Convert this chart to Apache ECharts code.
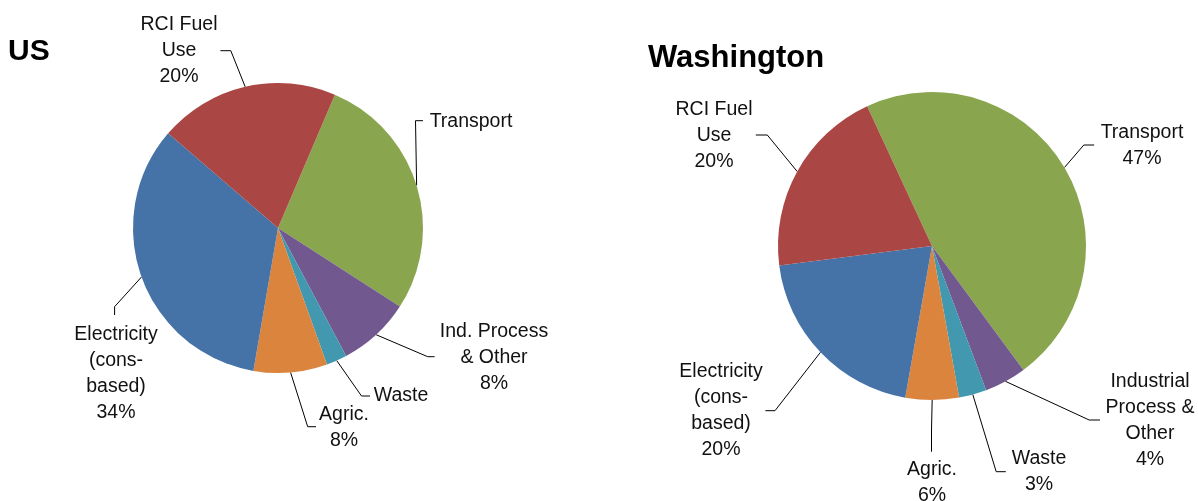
<!DOCTYPE html>
<html><head><meta charset="utf-8">
<script src="https://cdn.jsdelivr.net/npm/echarts@6/dist/echarts.min.js"></script>
<style>html,body{margin:0;padding:0;background:#fff}#c{width:1198px;height:501px}</style>
</head><body><div id="c"></div>
<script>
// ---- data ----
const categories = ['Transport', 'Ind. Process & Other', 'Waste', 'Agric.', 'Electricity (cons-based)', 'RCI Fuel Use'];
const usValues = [27.7, 8.1, 2.3, 8.2, 33.6, 20.1];
const waValues = [46.8, 4.4, 2.9, 5.6, 20.2, 20.1];
const usLabelNames = ['Transport', 'Ind. Process\n& Other', 'Waste', 'Agric.', 'Electricity\n(cons-\nbased)', 'RCI Fuel\nUse'];
const waLabelNames = ['Transport', 'Industrial\nProcess &\nOther', 'Waste', 'Agric.', 'Electricity\n(cons-\nbased)', 'RCI Fuel\nUse'];
const usShowPct = [false, true, false, true, true, true];
const waShowPct = [true, true, true, true, true, true];
const titles = ['US', 'Washington'];

// ---- style / layout ----
const colors = ['#89A54E', '#71588F', '#4198AF', '#DB843D', '#4572A7', '#AA4643'];
const FONT = 'Liberation Sans, Arial, sans-serif';
// label text-block centres and leader-line bend/end points (annotation layout)
const labelLayouts = [
  [
    {x: 471, y: 122, bend: [415.5, 120.7], end: [423, 120.7]},
    {x: 494, y: 357.5, bend: [427.7, 356.7], end: [434.6, 356.7]},
    {x: 401, y: 396, bend: [361.5, 396], end: [370, 396]},
    {x: 344, y: 427.5, bend: [307.7, 426.7], end: [316, 426.7]},
    {x: 116, y: 373.5, bend: [114.6, 306.7], end: [114.6, 315]},
    {x: 179, y: 50.5, bend: [230.8, 50.7], end: [220.4, 50.7]}
  ],
  [
    {x: 1142, y: 145.5, bend: [1083.8, 145], end: [1094.2, 145]},
    {x: 1150, y: 420.5, bend: [1089.2, 420], end: [1100, 420]},
    {x: 1039, y: 471.5, bend: [996.2, 471.7], end: [1005.8, 471.7]},
    {x: 932, y: 482.5, bend: [931.5, 430], end: [931.5, 451.7]},
    {x: 721, y: 410.5, bend: [775, 410.7], end: [765.4, 410.7]},
    {x: 714, y: 135.5, bend: [767.3, 135], end: [755.8, 135]}
  ]
];

function buildData(values, names, showPct) {
  return values.map((v, i) => ({
    name: categories[i],
    value: v,
    labelText: names[i] + (showPct[i] ? '\n' + Math.round(v) + '%' : '')
  }));
}
const usData = buildData(usValues, usLabelNames, usShowPct);
const waData = buildData(waValues, waLabelNames, waShowPct);

function pieSeries(idx, data, center, radius, startAngle) {
  return {
    type: 'pie',
    center: center,
    radius: radius,
    startAngle: startAngle,
    clockwise: true,
    avoidLabelOverlap: false,
    animation: false,
    silent: true,
    data: data,
    itemStyle: {borderWidth: 0},
    label: {
      show: true,
      position: 'outside',
      formatter: p => p.data.labelText,
      color: '#111',
      fontFamily: FONT,
      fontSize: 19.5,
      lineHeight: 26,
      align: 'center'
    },
    labelLine: {show: true, length: 20, length2: 10, lineStyle: {color: '#000', width: 1}},
    labelLayout: function (params) {
      const L = labelLayouts[idx][params.dataIndex];
      const pts = params.labelLinePoints;
      const p0 = pts && pts[0] ? pts[0] : L.bend;
      return {
        x: L.x, y: L.y, align: 'center', verticalAlign: 'middle',
        hideOverlap: false, moveOverlap: null,
        labelLinePoints: [[p0[0], p0[1]], L.bend, L.end]
      };
    }
  };
}

const chart = echarts.init(document.getElementById('c'), null, {renderer: 'canvas'});
chart.setOption({
  backgroundColor: '#fff',
  color: colors,
  title: [
    {text: titles[0], left: 8, top: 37, padding: 0,
     textStyle: {fontSize: 30, fontWeight: 'bold', fontFamily: FONT, color: '#000'}},
    {text: titles[1], left: 648, top: 43, padding: 0,
     textStyle: {fontSize: 31, fontWeight: 'bold', fontFamily: FONT, color: '#000'}}
  ],
  series: [
    pieSeries(0, usData, [278, 228], 145, 66.9),
    pieSeries(1, waData, [932, 246], 154, 114.9)
  ]
});
</script>
</body></html>
